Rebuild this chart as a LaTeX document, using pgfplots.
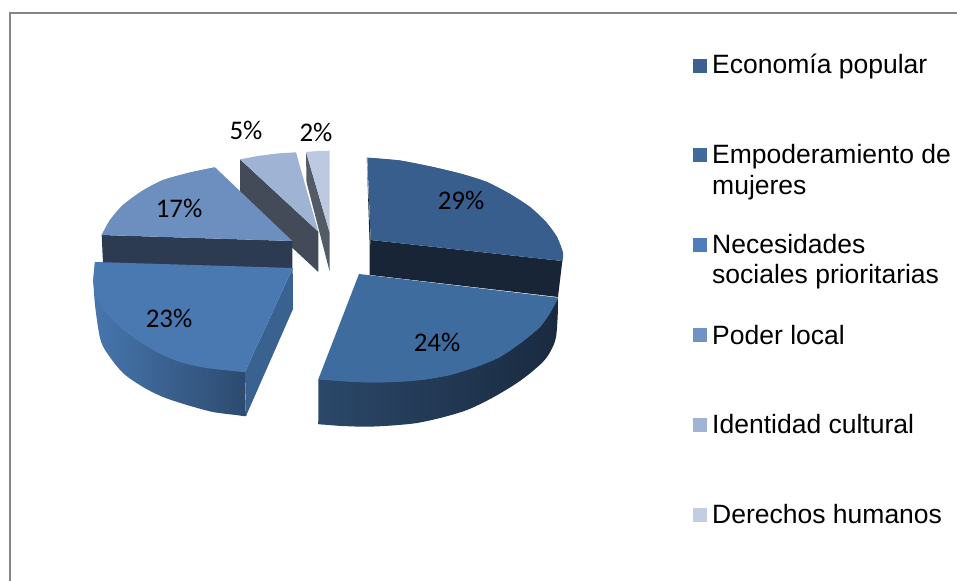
\documentclass[border=0pt]{standalone}
\usepackage{pgfplots}
\pgfplotsset{compat=1.18}
\usepackage{fontspec}
\setmainfont{Liberation Sans}
\newfontfamily\calib{Carlito}
\definecolor{cA}{HTML}{375E8C}
\definecolor{cB}{HTML}{3F6C9F}
\definecolor{cC}{HTML}{4A79B2}
\definecolor{cD}{HTML}{6C8FC0}
\definecolor{cE}{HTML}{9FB3D5}
\definecolor{cF}{HTML}{BCC9E0}
\definecolor{dA}{HTML}{182537}
\definecolor{dC}{HTML}{3A6290}
\definecolor{dD}{HTML}{2D3B52}
\definecolor{dE}{HTML}{434B58}
\definecolor{dF}{HTML}{535B66}
\definecolor{lA}{HTML}{3A6191}
\definecolor{lB}{HTML}{40699C}
\definecolor{lC}{HTML}{4D7DBA}
\definecolor{lD}{HTML}{7092C4}
\definecolor{lE}{HTML}{A0B4D6}
\definecolor{lF}{HTML}{C1CDE3}
\definecolor{frameC}{HTML}{868686}
\definecolor{sCa}{HTML}{4676AD}
\definecolor{sCb}{HTML}{2D4A6E}
\definecolor{sBa}{HTML}{2B4869}
\definecolor{sBb}{HTML}{1A2A40}
\begin{document}
\begin{tikzpicture}[x=1bp,y=1bp,
  lab/.style={font=\calib\fontsize{27}{27}\selectfont,inner sep=0pt,text=black},
  leg/.style={font=\fontsize{26.6}{26.6}\selectfont,anchor=base west,inner sep=0pt,text=black}]
\useasboundingbox (0,0) rectangle (957,581);
\fill[white] (0,0) rectangle (957,581);
\begin{axis}[
  at={(0,0)},anchor=south west,
  scale only axis,width=957bp,height=581bp,
  xmin=0,xmax=957,ymin=0,ymax=581,y dir=reverse,
  hide axis,clip=true,
]
% frame
\addplot[draw=frameC,line width=2bp,mark=none] coordinates {(9.8,581)(9.8,13)(957,13)};
% 5% slice
\addplot[draw=none,fill=dE,mark=none] coordinates {(240,159.3)(318.3,231.7)(318.3,272)(240,199)};
\addplot[draw=none,fill=cE,mark=none] coordinates {(240,159.3)(258,156)(277,153.5)(296,152.3)(318.3,231.7)};
% 2% slice
\addplot[draw=none,fill=dF,mark=none] coordinates {(306,152)(329.5,232)(329.5,271)(306.5,182)};
\addplot[draw=none,fill=cF,mark=none] coordinates {(306,152)(318,151)(329.5,150.7)(329.5,232)};
% 29% slice
\addplot[draw=none,fill=dA,mark=none] coordinates {(366.8,158)(369.5,240)(369.5,275)(371,275)(370.7,240)};
\addplot[draw=none,fill=dA,mark=none] coordinates {(370.7,240)(562.3,261)(558,297)(370,275)};
\addplot[draw=none,fill=cA,mark=none] coordinates {(370.7,240)(367.3,157.7)(400,160.5)(433,167)(462,174)(487,182)(510,194)(530,207)(546,222)(557,237)(563,253)(562.3,261)};
\addplot[draw=none,fill=cA,mark=none,smooth] coordinates {(367.3,157.7)(400,160.5)(433,167)(462,174)(487,182)(510,194)(530,207)(546,222)(557,237)(563,253)(562.3,261)};
% 17% slice
\addplot[draw=none,fill=dD,mark=none] coordinates {(101.7,235)(292.3,241)(292.3,270)(103,264)};
\addplot[draw=none,fill=cD,mark=none] coordinates {(292.3,241)(101.7,235)(110,220)(123,205)(142,191)(163,180)(190,172.5)(215,167.3)};
\addplot[draw=none,fill=cD,mark=none,smooth] coordinates {(101.7,235)(110,220)(123,205)(142,191)(163,180)(190,172.5)(215,167.3)};
% 23% slice
\addplot[draw=none,left color=sCa,right color=sCb,mark=none,smooth] coordinates {(93.3,280)(95,305)(100,338)(107,353)(123,373)(143,387)(163,397)(187,405)(213,412)(236,415)(246,416)(245.7,411)(245,372)};
\addplot[draw=none,fill=dC,mark=none] coordinates {(292.7,268)(293,309)(246,416)(245,372)};
\addplot[draw=none,fill=cC,mark=none] coordinates {(292.7,268)(95,262)(93.3,280)(95,292)(100,305)(108,315)(120,327)(137,340)(157,352)(180,362)(207,368)(245,372)};
\addplot[draw=none,fill=cC,mark=none,smooth] coordinates {(95,262)(93.3,280)(95,292)(100,305)(108,315)(120,327)(137,340)(157,352)(180,362)(207,368)(245,372)};
% 24% slice
\addplot[draw=none,left color=sBa,middle color=sBb,right color=sBb,mark=none,smooth] coordinates {(318.3,379.3)(318.3,420)(318.3,424)(324,424.6)(342,426)(367,426.7)(392,425.5)(417,423)(442,417.5)(467,410)(492,398)(517,383)(534,370)(547,357)(556,337)(558.3,297.7)};
\addplot[draw=none,fill=cB,mark=none] coordinates {(359,274)(558.3,297.7)(550,313)(540,327)(522,342)(500,357)(476,367)(450,375)(425,379.5)(400,381.7)(375,382.5)(350,381.7)(318.3,379.3)};
\addplot[draw=none,fill=cB,mark=none,smooth] coordinates {(558.3,297.7)(550,313)(540,327)(522,342)(500,357)(476,367)(450,375)(425,379.5)(400,381.7)(375,382.5)(350,381.7)(318.3,379.3)};
% legend keys
\addplot[draw=none,fill=lA,mark=none] coordinates {(693,59)(707,59)(707,73)(693,73)};
\addplot[draw=none,fill=lB,mark=none] coordinates {(693,148)(707,148)(707,162)(693,162)};
\addplot[draw=none,fill=lC,mark=none] coordinates {(693,238)(707,238)(707,252)(693,252)};
\addplot[draw=none,fill=lD,mark=none] coordinates {(693,328)(707,328)(707,342)(693,342)};
\addplot[draw=none,fill=lE,mark=none] coordinates {(693,418)(707,418)(707,432)(693,432)};
\addplot[draw=none,fill=lF,mark=none] coordinates {(693,508)(707,508)(707,522)(693,522)};
% legend text
\node[leg] at (axis cs:712,74) {Economía popular};
\node[leg] at (axis cs:712,163.5) {Empoderamiento de};
\node[leg] at (axis cs:712,194.5) {mujeres};
\node[leg] at (axis cs:712,253.5) {Necesidades};
\node[leg] at (axis cs:712,284) {sociales prioritarias};
\node[leg] at (axis cs:712,344.5) {Poder local};
\node[leg] at (axis cs:712,433.5) {Identidad cultural};
\node[leg] at (axis cs:712,523) {Derechos humanos};
% percentages
\node[lab] at (axis cs:461,200) {29\%};
\node[lab] at (axis cs:437,342) {24\%};
\node[lab] at (axis cs:169,318) {23\%};
\node[lab] at (axis cs:179,208) {17\%};
\node[lab] at (axis cs:246,130) {5\%};
\node[lab] at (axis cs:316,132) {2\%};
\end{axis}
\end{tikzpicture}
\end{document}
